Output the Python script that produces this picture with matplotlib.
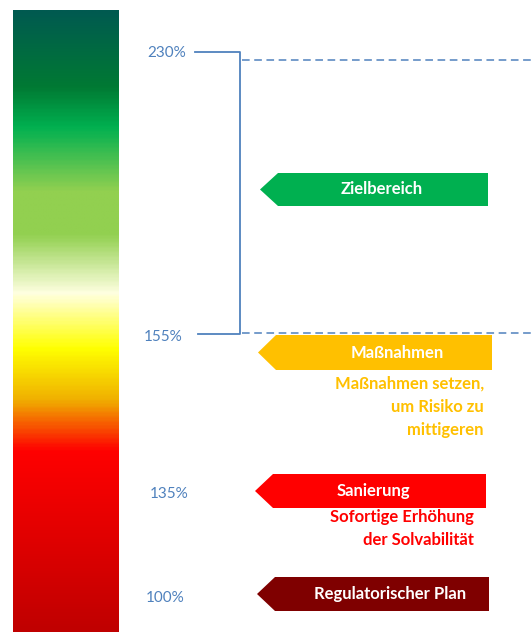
import numpy as np
import matplotlib.pyplot as plt
from matplotlib.colors import LinearSegmentedColormap
from matplotlib.patches import Polygon

# --------------------------
# DATA
# --------------------------
levels = ["230%", "155%", "135%", "100%"]
zones = ["Zielbereich", "Maßnahmen", "Sanierung", "Regulatorischer Plan"]
notes = [[], ["Maßnahmen setzen,", "um Risiko zu", "mittigeren"],
         ["Sofortige Erhöhung", "der Solvabilität"], []]

# --------------------------
# LAYOUT (pixel coordinates, y goes down)
# --------------------------
level_y = [52, 336, 493, 597]
label_x = [167, 163, 169, 165]
arrow_box = [  # x_tip, x_right, y_top, y_bottom, text_x
    (260, 488, 173, 206, 382),
    (258, 492, 335, 370, 397),
    (255, 486, 474, 508, 373),
    (257, 489, 577, 611, 390),
]
zone_colors = ["#00b050", "#ffc000", "#ff0000", "#7f0000"]
note_colors = ["#ffc000", "#ffc000", "#ff0000", "#ff0000"]
note_x = [484, 484, 474, 474]
note_y0 = [384, 384, 517, 517]
note_step = 23
blue = "#4f81bd"

plt.rcParams['font.family'] = ['Lato', 'DejaVu Sans']

fig = plt.figure(figsize=(5.31, 6.32), dpi=100)
ax = fig.add_axes([0, 0, 1, 1])
ax.set_xlim(0, 531)
ax.set_ylim(632, 0)
ax.axis("off")

# gradient bar
stops = [(0.0, "#005a50"), (0.122, "#007a33"), (0.186, "#00b050"),
         (0.29, "#92d050"), (0.36, "#92d050"), (0.455, "#ffffe0"),
         (0.545, "#ffff00"), (0.627, "#f0b000"), (0.71, "#ff0000"),
         (1.0, "#c00000")]
cmap = LinearSegmentedColormap.from_list("risk", stops)
grad = np.linspace(0, 1, 400).reshape(-1, 1)
ax.imshow(grad, cmap=cmap, aspect="auto", extent=(12.5, 118, 632, 10),
          interpolation="bilinear")

# bracket and level labels
ax.plot([195, 240, 240, 198], [level_y[0], level_y[0], 334, 334],
        color=blue, lw=1.3)
for y in [60, 333]:
    ax.plot([242, 531], [y, y], color=blue, lw=1.1, dashes=(5, 3))
for lab, y, x in zip(levels, level_y, label_x):
    ax.text(x, y + 1, lab, color=blue, fontsize=11, ha="center", va="center")

# arrows
for i, (name, col) in enumerate(zip(zones, zone_colors)):
    xt, xr, yt, yb, tx = arrow_box[i]
    yc = (yt + yb) / 2
    xn = xt + 18
    ax.add_patch(Polygon([(xt, yc), (xn, yt), (xr, yt), (xr, yb), (xn, yb)],
                         closed=True, facecolor=col, edgecolor="none"))
    ax.text(tx, yc, name, color="white", fontsize=12, fontweight="bold",
            ha="center", va="center")
    for k, line in enumerate(notes[i]):
        ax.text(note_x[i], note_y0[i] + k * note_step, line,
                color=note_colors[i], fontsize=12, fontweight="bold",
                ha="right", va="center")

fig.savefig("out.png", dpi=100)
